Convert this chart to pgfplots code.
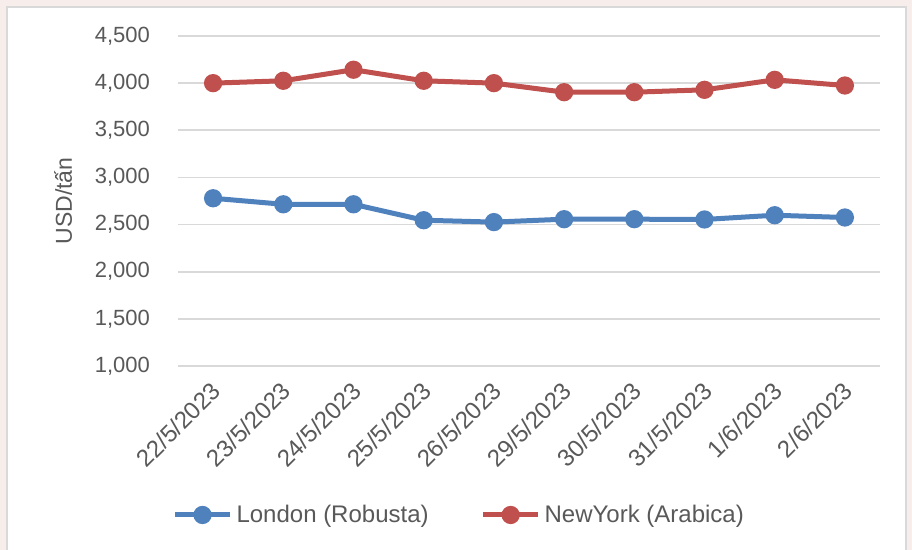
\documentclass[border=0pt]{standalone}
\usepackage{pgfplots}
\pgfplotsset{compat=1.18}
\usepackage{fontspec}
\setmainfont{Liberation Sans}
\definecolor{bgpink}{HTML}{F7EEEB}
\definecolor{boxgray}{HTML}{D9D9D9}
\definecolor{gridgray}{HTML}{D9D9D9}
\definecolor{txtgray}{HTML}{595959}
\definecolor{lblue}{HTML}{4F81BD}
\definecolor{lred}{HTML}{C0504D}
\begin{document}
\begin{tikzpicture}
\useasboundingbox (0,0) rectangle (456pt,275pt);
\fill[bgpink] (0,0) rectangle (456pt,275pt);
\filldraw[fill=white, draw=boxgray, line width=0.8pt] (3.5pt,-2pt) rectangle (453pt,271.5pt);
\begin{axis}[
  at={(89pt,92pt)}, anchor=south west,
  scale only axis, width=351pt, height=165pt,
  xmin=-0.5, xmax=9.5, ymin=1000, ymax=4500,
  xtick={0,...,9},
  xticklabels={22/5/2023,23/5/2023,24/5/2023,25/5/2023,26/5/2023,29/5/2023,30/5/2023,31/5/2023,1/6/2023,2/6/2023},
  ytick={1000,1500,...,4500},
  axis line style={draw=none},
  major tick style={draw=none},
  ymajorgrids, grid style={gridgray, line width=0.8pt},
  /pgf/number format/.cd, 1000 sep={,}, assume math mode=true,
  /pgfplots/.cd,
  yticklabel style={font=\fontsize{11}{13}\selectfont, text=txtgray, xshift=-10.5pt},
  xticklabel style={font=\fontsize{12}{14}\selectfont, text=txtgray, xshift=4pt, yshift=-8pt, rotate=45, anchor=east},
  ylabel={USD/tấn},
  ylabel shift=4.5pt,
  ylabel style={font=\fontsize{11.5}{13}\selectfont, text=txtgray},
  legend style={at={(axis description cs:0.402,-0.4515)}, anchor=center, draw=none, fill=none,
    font=\fontsize{12}{14}\selectfont, text=txtgray, legend columns=2,
    /tikz/every even column/.append style={column sep=24pt}},
  legend cell align=left,
  legend image code/.code={\draw[#1, mark repeat=2, mark phase=2] plot coordinates {(0pt,0pt) (13.75pt,0pt) (27.5pt,0pt)};},
]
\addplot[lblue, line width=2.5pt, mark=*, mark size=3.3pt, mark options={solid}] coordinates {
(0,2779) (1,2715) (2,2715) (3,2546) (4,2526) (5,2557) (6,2557) (7,2554) (8,2599) (9,2575)};
\addlegendentry{London (Robusta)}
\addplot[lred, line width=2.5pt, mark=*, mark size=3.3pt, mark options={solid}] coordinates {
(0,4000) (1,4025) (2,4142) (3,4025) (4,4000) (5,3904) (6,3904) (7,3929) (8,4035) (9,3975)};
\addlegendentry{NewYork (Arabica)}
\end{axis}
\end{tikzpicture}
\end{document}
